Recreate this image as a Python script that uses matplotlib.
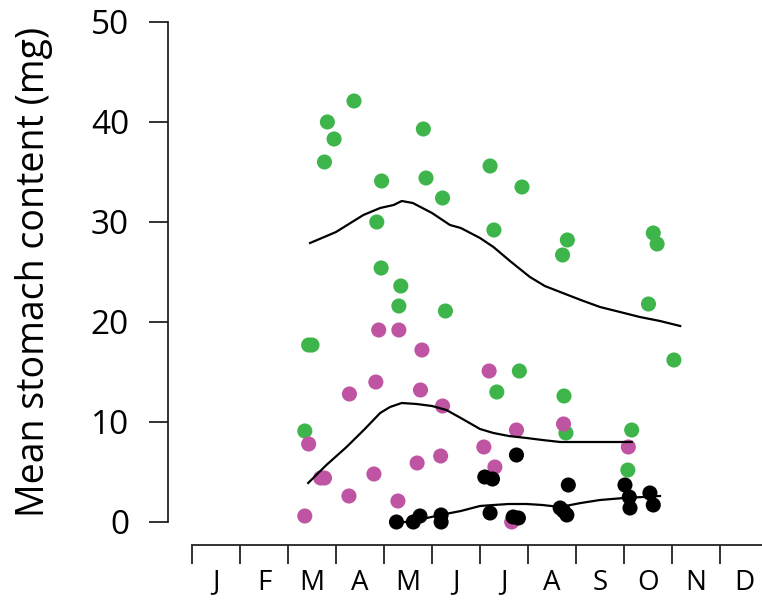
import matplotlib
matplotlib.use("Agg")
import matplotlib.pyplot as plt

plt.rcParams['font.family'] = ['Open Sans', 'DejaVu Sans']

months = ['J', 'F', 'M', 'A', 'M', 'J', 'J', 'A', 'S', 'O', 'N', 'D']
yticks = [0, 10, 20, 30, 40, 50]

green_x = [3.375, 2.82, 2.96, 2.76, 4.82, 3.95, 4.875, 5.22, 3.85, 3.94, 4.35, 4.31, 5.28,
           2.43, 2.50, 2.35, 6.21, 6.875, 6.29, 7.82, 7.72, 9.61, 9.69, 9.51, 10.04, 6.82,
           6.35, 7.75, 7.79, 9.16, 9.08]
green_y = [42.1, 40.0, 38.3, 36.0, 39.3, 34.1, 34.4, 32.4, 30.0, 25.4, 23.6, 21.6, 21.1,
           17.7, 17.7, 9.1, 35.6, 33.5, 29.2, 28.2, 26.7, 28.9, 27.8, 21.8, 16.2, 15.1,
           13.0, 12.6, 8.9, 9.2, 5.2]

pink_x = [3.89, 4.31, 4.79, 3.83, 3.28, 4.76, 5.22, 2.43, 5.18, 4.69, 2.68, 2.76, 3.79,
          3.27, 4.29, 2.35, 6.19, 7.74, 6.76, 9.09, 6.08, 6.31, 6.66]
pink_y = [19.2, 19.2, 17.2, 14.0, 12.8, 13.2, 11.6, 7.8, 6.6, 5.9, 4.4, 4.4, 4.8,
          2.6, 2.1, 0.6, 15.1, 9.8, 9.2, 7.5, 7.5, 5.5, 0.0]

black_x = [4.26, 4.61, 4.75, 5.19, 5.19, 6.76, 6.10, 6.26, 7.84, 9.02, 9.11, 9.54, 9.125,
           9.61, 6.21, 6.69, 6.80, 7.67, 7.81, 7.74]
black_y = [0.0, 0.0, 0.6, 0.7, 0.0, 6.7, 4.5, 4.3, 3.7, 3.7, 2.5, 2.9, 1.4,
           1.7, 0.9, 0.5, 0.4, 1.4, 0.7, 1.1]

green_curve_x = [2.46, 3.0, 3.57, 3.92, 4.2, 4.37, 4.6, 5.0, 5.375, 5.6, 6.0, 6.28, 6.65,
                 7.04, 7.35, 7.67, 8.1, 8.5, 9.0, 9.33, 9.75, 10.17]
green_curve_y = [27.9, 29.0, 30.7, 31.4, 31.7, 32.1, 31.9, 30.9, 29.7, 29.4, 28.4, 27.5, 26.0,
                 24.5, 23.6, 23.0, 22.2, 21.5, 20.9, 20.5, 20.1, 19.6]

pink_curve_x = [2.42, 2.8, 3.22, 3.6, 3.92, 4.125, 4.37, 4.68, 5.0, 5.3, 5.6, 6.0, 6.28,
                6.6, 6.97, 7.3, 7.67, 8.2, 8.7, 9.16]
pink_curve_y = [3.9, 5.7, 7.5, 9.3, 10.9, 11.5, 11.9, 11.8, 11.6, 11.2, 10.4, 9.3, 8.9,
                8.6, 8.4, 8.2, 8.0, 8.0, 8.0, 8.0]

black_curve_x = [4.44, 4.8, 5.17, 5.6, 6.0, 6.28, 6.6, 6.97, 7.3, 7.67, 8.1, 8.5, 9.0, 9.4, 9.75]
black_curve_y = [0.0, 0.3, 0.7, 1.1, 1.6, 1.7, 1.8, 1.8, 1.7, 1.5, 1.9, 2.2, 2.4, 2.5, 2.6]

GREEN = '#3db54a'
PINK = '#bf54a2'

W, H = 762, 605
fig = plt.figure(figsize=(W / 100, H / 100), dpi=100)
# map data to pixels: x pixel = 192 + 48*m ; y pixel = 522 - 10*v
x0, x1 = -0.7, 12.0
y0, y1 = -4.5, 51.5
left = (192 + 48 * x0) / W
right = (192 + 48 * x1) / W
bottom = (H - (522 - 10 * y0)) / H
top = (H - (522 - 10 * y1)) / H
ax = fig.add_axes([left, bottom, right - left, top - bottom])
ax.set_xlim(x0, x1)
ax.set_ylim(y0, y1)

ms = 118
ax.scatter(green_x, green_y, s=ms, color=GREEN, edgecolors='none', zorder=3)
ax.scatter(pink_x, pink_y, s=ms, color=PINK, edgecolors='none', zorder=3)
ax.scatter(black_x, black_y, s=ms, color='black', edgecolors='none', zorder=4)

ax.plot(green_curve_x, green_curve_y, color='black', lw=1.6, zorder=5)
ax.plot(pink_curve_x, pink_curve_y, color='black', lw=1.6, zorder=5)
ax.plot(black_curve_x, black_curve_y, color='black', lw=1.6, zorder=5)

for s in ['top', 'right']:
    ax.spines[s].set_visible(False)
ax.spines['left'].set_position(('data', -0.5))
ax.spines['left'].set_bounds(0, 50)
ax.spines['bottom'].set_position(('data', -2.3))
ax.spines['bottom'].set_bounds(0, 12)
for s in ['left', 'bottom']:
    ax.spines[s].set_linewidth(1.3)
    ax.spines[s].set_color('#222222')

ax.set_yticks(yticks)
ax.set_yticklabels([str(v) for v in yticks])
ax.tick_params(axis='y', length=14, width=1.3, color='#222222', pad=14, labelsize=24)

ax.set_xticks(range(0, 12))
ax.set_xticklabels([])
ax.set_xticks([i + 0.5 for i in range(12)], minor=True)
ax.set_xticklabels(months, minor=True)
ax.tick_params(axis='x', which='major', length=14, width=1.3, color='#222222', direction='out')
ax.tick_params(axis='x', which='minor', length=0, pad=17, labelsize=20)

ax.set_ylabel('Mean stomach content (mg)', fontsize=27)
ax_px_left = 192 + 48 * x0
ax_px_width = 48 * (x1 - x0)
ax.yaxis.set_label_coords((53 - ax_px_left) / ax_px_width, (25.0 - y0) / (y1 - y0))

fig.savefig('out.png', dpi=100)
